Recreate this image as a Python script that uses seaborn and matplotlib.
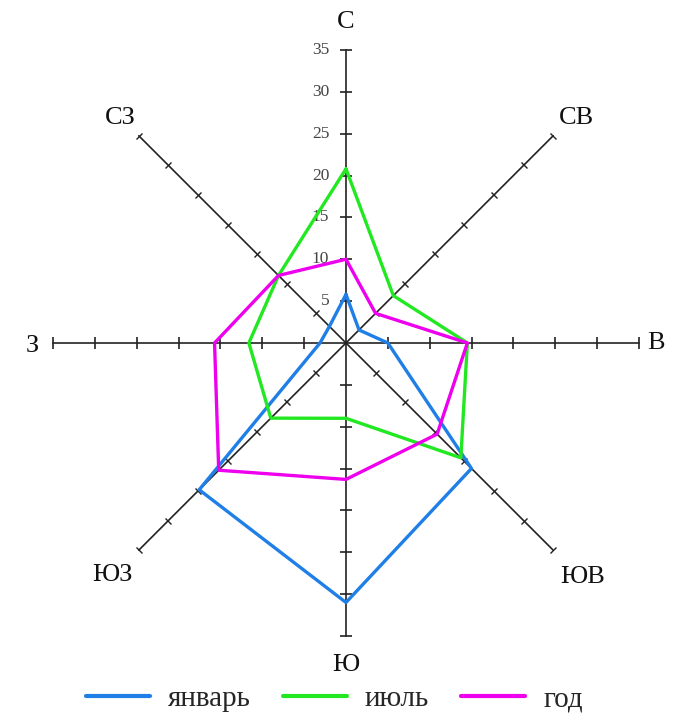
import numpy as np
import pandas as pd
import matplotlib
matplotlib.use("Agg")
import matplotlib.pyplot as plt
from matplotlib.markers import MarkerStyle
from matplotlib.transforms import Affine2D
from matplotlib.lines import Line2D
import seaborn as sns

# wind rose data, % of cases by direction
directions = ["С", "СВ", "В", "ЮВ", "Ю", "ЮЗ", "З", "СЗ"]
january = [5.8, 2.2, 5.0, 21.2, 31.0, 24.8, 3.1, 2.8]
july = [20.8, 8.0, 14.5, 19.4, 9.0, 12.7, 11.6, 11.4]
year = [10.0, 5.0, 14.5, 15.4, 16.3, 21.5, 15.7, 11.4]
series_names = ["январь", "июль", "год"]
colors = ["#1f7fe6", "#22e822", "#ee00ee"]
r_ticks = [5, 10, 15, 20, 25, 30, 35]
r_max = 35

# label offsets (points) from the end of each spoke
label_offsets = [(0, 20), (16.5, 13), (12, 0), (21, -19),
                 (0, -21), (-19, -18), (-15, -2), (-13, 13)]

sns.set_theme(style="white")
plt.rcParams["font.family"] = ["Liberation Serif", "DejaVu Serif"]

angles = np.deg2rad(np.arange(len(directions)) * 45.0)

rows = []
for name, vals in zip(series_names, [january, july, year]):
    for i in range(len(directions) + 1):
        k = i % len(directions)
        rows.append({"series": name, "theta": angles[k] + (2 * np.pi if i == len(directions) else 0),
                     "value": vals[k]})
df = pd.DataFrame(rows)

fig = plt.figure(figsize=(6.81, 7.25), dpi=100)
ax = fig.add_axes([0.0778, 0.1228, 0.8605, 0.8083], projection="polar")
ax.set_theta_zero_location("N")
ax.set_theta_direction(-1)
ax.set_ylim(0, r_max)
ax.grid(False)
ax.spines["polar"].set_visible(False)
ax.set_xticks([])
ax.set_yticks([])
ax.patch.set_alpha(0)

# spokes with perpendicular tick marks
for i, a in enumerate(angles):
    ax.plot([a, a], [0, r_max], color="#222222", lw=1.2, zorder=1, clip_on=False)
    deg = i * 45
    main = deg % 90 == 0
    mk = MarkerStyle("|", transform=Affine2D().rotate_deg(-deg - 90))
    ax.plot([a] * len(r_ticks), r_ticks, ls="none", marker=mk,
            markersize=9 if main else 7, markeredgewidth=1.2 if main else 1.0,
            color="#222222", zorder=1, clip_on=False)

# value labels on the north axis
for t in r_ticks:
    ax.annotate(str(t), xy=(0, t), xytext=(-12, 0), textcoords="offset points",
                ha="right", va="center", fontsize=12.5, color="#444444")

# direction labels
for a, d, off in zip(angles, directions, label_offsets):
    ax.annotate(d, xy=(a, r_max), xytext=off, textcoords="offset points",
                ha="center", va="center", fontsize=19, color="#111111",
                annotation_clip=False)

sns.lineplot(data=df, x="theta", y="value", hue="series", palette=colors,
             hue_order=series_names, sort=False, estimator=None, units="series",
             lw=2.4, ax=ax, legend=False, zorder=3)
ax.set_xlabel("")
ax.set_ylabel("")
ax.set_ylim(0, r_max)

handles = [Line2D([0], [0], color=c, lw=3) for c in colors]
fig.legend(handles, series_names, loc="center", bbox_to_anchor=(0.491, 0.036),
           ncol=3, frameon=False, fontsize=21, handlelength=2.2,
           handletextpad=0.62, columnspacing=1.1)

fig.savefig("out.png", dpi=100)
